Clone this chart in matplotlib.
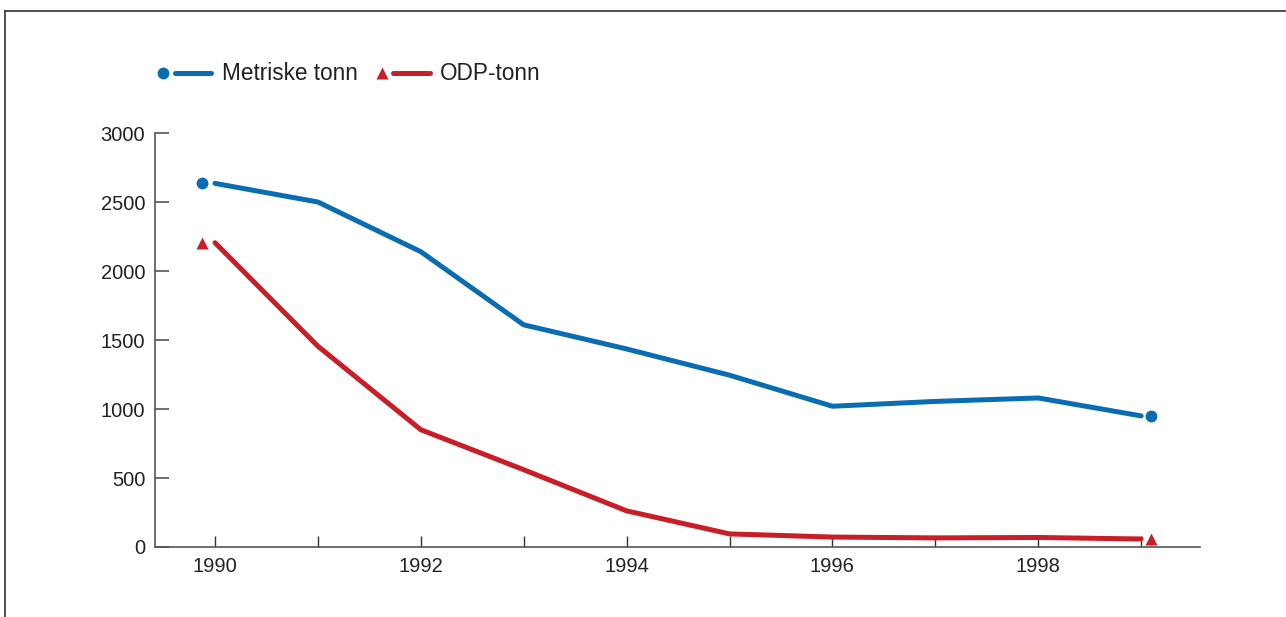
import matplotlib.pyplot as plt
import matplotlib.transforms as mtransforms
from matplotlib.lines import Line2D

plt.rcParams['font.family'] = ['Liberation Sans', 'DejaVu Sans']

# Data
years = [1990, 1991, 1992, 1993, 1994, 1995, 1996, 1997, 1998, 1999]
metric_tonnes = [2635, 2500, 2140, 1610, 1435, 1245, 1020, 1055, 1080, 950]
odp_tonnes = [2205, 1455, 850, 560, 262, 95, 72, 66, 69, 58]

labels = ['Metriske tonn', 'ODP-tonn']
colors = ['#0a6db3', '#c81e28']
markers = ['o', '^']

fig = plt.figure(figsize=(12.86, 6.17), dpi=100)
ax = fig.add_axes([155 / 1286, 1 - 547 / 617, (1200 - 155) / 1286, (547 - 133) / 617])

for vals, col, mk in zip([metric_tonnes, odp_tonnes], colors, markers):
    ax.plot(years, vals, color=col, lw=3.6, solid_capstyle='round',
            solid_joinstyle='round', zorder=3)
    ms = 8.5 if mk == 'o' else 9
    # end markers sit slightly outside the line ends
    left = mtransforms.offset_copy(ax.transData, fig=fig, x=-13, y=0, units='dots')
    right = mtransforms.offset_copy(ax.transData, fig=fig, x=10, y=0, units='dots')
    ax.plot(years[0], vals[0], mk, color=col, ms=ms, mec='none', transform=left,
            clip_on=False, zorder=4)
    ax.plot(years[-1], vals[-1], mk, color=col, ms=ms, mec='none', transform=right,
            clip_on=False, zorder=4)

ax.set_xlim(1989.417, 1999.572)
ax.set_ylim(0, 3000)
ax.set_yticks([0, 500, 1000, 1500, 2000, 2500, 3000])
ax.set_xticks(years)
ax.set_xticklabels([str(y) if y % 2 == 0 else '' for y in years])

for s in ['top', 'right']:
    ax.spines[s].set_visible(False)
for s in ['left', 'bottom']:
    ax.spines[s].set_color('#555555')
    ax.spines[s].set_linewidth(1.2)

ax.tick_params(axis='y', direction='in', length=10, width=1.2, color='#555555',
               labelsize=14.5, labelcolor='#222222', pad=7)
ax.tick_params(axis='x', direction='in', length=8, width=1.0, color='#333333',
               labelsize=14.5, labelcolor='#222222', pad=7)

# Legend, drawn by hand
leg_y = 1 - 73 / 617
items = [(163, 175, 211, 222), (382, 393, 430, 440)]
for (mx, l0, l1, tx), lab, col, mk in zip(items, labels, colors, markers):
    fig.add_artist(Line2D([mx / 1286], [leg_y], marker=mk, color=col,
                          ms=8.5 if mk == 'o' else 8, mec='none',
                          transform=fig.transFigure))
    fig.add_artist(Line2D([l0 / 1286, l1 / 1286], [leg_y, leg_y], color=col, lw=3.6,
                          solid_capstyle='round', transform=fig.transFigure))
    fig.text(tx / 1286, leg_y, lab, fontsize=16.3, color='#222222',
             va='center', ha='left')

# Frame around the figure (top and left edges)
fig.add_artist(Line2D([5 / 1286, 1], [1 - 11 / 617, 1 - 11 / 617], color='#333333',
                      lw=1.2, transform=fig.transFigure))
fig.add_artist(Line2D([5 / 1286, 5 / 1286], [0, 1 - 11 / 617], color='#333333',
                      lw=1.2, transform=fig.transFigure))

fig.savefig('out.png', dpi=100)
